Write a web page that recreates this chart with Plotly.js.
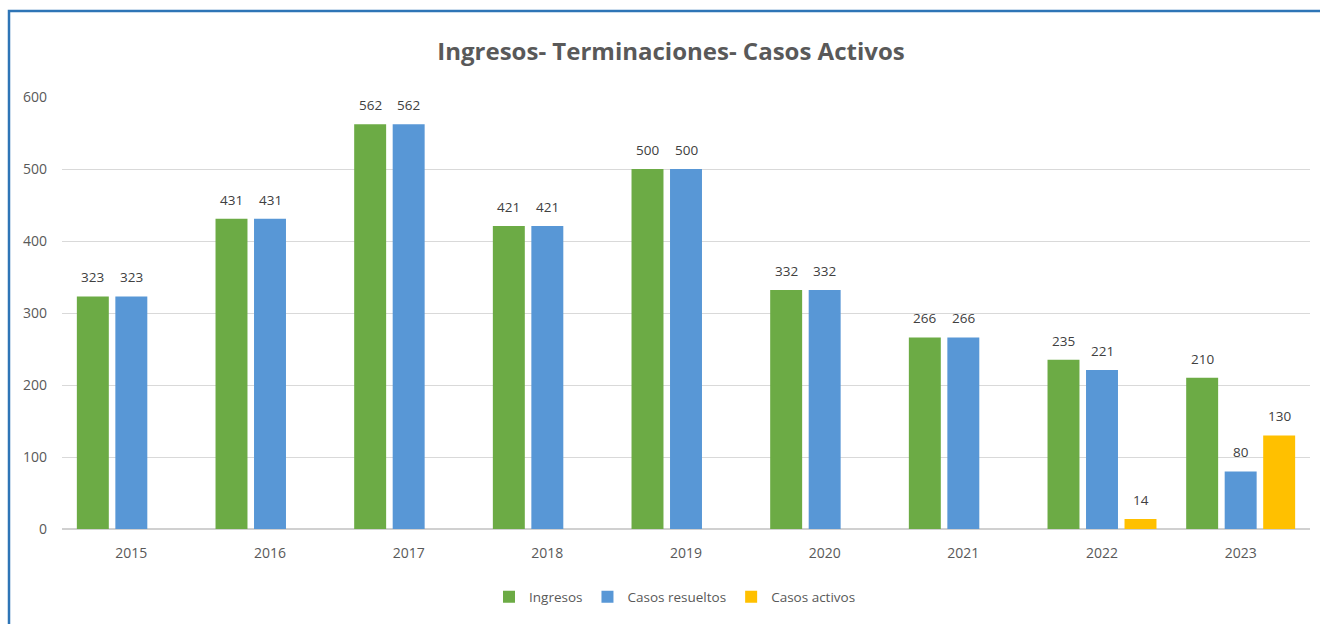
<!DOCTYPE html>
<html>
<head>
<meta charset="utf-8">
<script src="https://cdn.plot.ly/plotly-3.0.1.min.js"></script>
<style>html,body{margin:0;padding:0;background:#fff;}#chart{width:1320px;height:624px;}</style>
</head>
<body>
<div id="chart"></div>
<script>
var years = ['2015','2016','2017','2018','2019','2020','2021','2022','2023'];
var ingresos = [323, 431, 562, 421, 500, 332, 266, 235, 210];
var resueltos = [323, 431, 562, 421, 500, 332, 266, 221, 80];
var activos = [null, null, null, null, null, null, null, 14, 130];
var seriesNames = ['Ingresos', 'Casos resueltos', 'Casos activos'];
var seriesColors = ['#6cab45', '#5897d6', '#ffc000'];
var yTicks = [0, 100, 200, 300, 400, 500, 600];

var allSeries = [ingresos, resueltos, activos];
var traces = allSeries.map(function (vals, i) {
  return {
    type: 'bar',
    name: seriesNames[i],
    x: years,
    y: vals,
    marker: {color: seriesColors[i]},
    hoverinfo: 'x+y+name'
  };
});

var slotPx = 38.5;
var annotations = [];
allSeries.forEach(function (vals, i) {
  vals.forEach(function (v, j) {
    if (v === null) return;
    annotations.push({
      x: j, y: v, xref: 'x', yref: 'y',
      text: String(v), showarrow: false,
      xshift: (i - 1) * slotPx, yshift: 19, yanchor: 'middle',
      font: {family: 'Open Sans, sans-serif', size: 13.5, color: '#404040'}
    });
  });
});

var W = 1320, H = 624, ml = 62, mr = 10, mt = 97, mb = 95;
var pw = W - ml - mr, ph = H - mt - mb;
function px(x) { return (x - ml) / pw; }
function py(y) { return (H - mb - y) / ph; }

var layout = {
  width: W, height: H,
  margin: {l: ml, r: mr, t: mt, b: mb},
  paper_bgcolor: '#ffffff', plot_bgcolor: '#ffffff',
  title: {
    text: '<b>Ingresos- Terminaciones- Casos Activos</b>',
    font: {family: 'Open Sans, sans-serif', size: 24, color: '#595959'},
    x: px(671), xanchor: 'center', xref: 'paper',
    y: 1 - 52 / H, yanchor: 'middle', yref: 'container'
  },
  barmode: 'group',
  bargap: 0.167,
  bargroupgap: 0.17,
  xaxis: {
    type: 'category',
    categoryorder: 'array', categoryarray: years,
    range: [-0.5, years.length - 0.5], autorange: false,
    showgrid: false, zeroline: false,
    showline: false, ticks: '',
    ticklabelstandoff: 14,
    tickfont: {family: 'Open Sans, sans-serif', size: 14, color: '#595959'}
  },
  yaxis: {
    range: [0, 600], autorange: false,
    tickvals: yTicks,
    showgrid: true, gridcolor: '#d9d9d9', gridwidth: 1,
    zeroline: true, zerolinecolor: '#d0d0d0', zerolinewidth: 2,
    showline: false, ticks: '',
    ticklabelstandoff: 14,
    tickfont: {family: 'Open Sans, sans-serif', size: 14, color: '#595959'}
  },
  legend: {
    orientation: 'h', x: px(675), xanchor: 'center',
    y: py(597), yanchor: 'middle',
    font: {family: 'Open Sans, sans-serif', size: 13.5, color: '#595959'},
    itemwidth: 30, traceorder: 'normal'
  },
  annotations: annotations,
  shapes: [{
    type: 'rect', xref: 'paper', yref: 'paper',
    x0: px(9), x1: px(1330), y0: py(640), y1: py(11),
    line: {color: '#2e75b6', width: 2.5}, fillcolor: 'rgba(0,0,0,0)', layer: 'above'
  }],
  showlegend: true
};

Plotly.newPlot('chart', traces, layout, {displayModeBar: false, staticPlot: false});
</script>
</body>
</html>
